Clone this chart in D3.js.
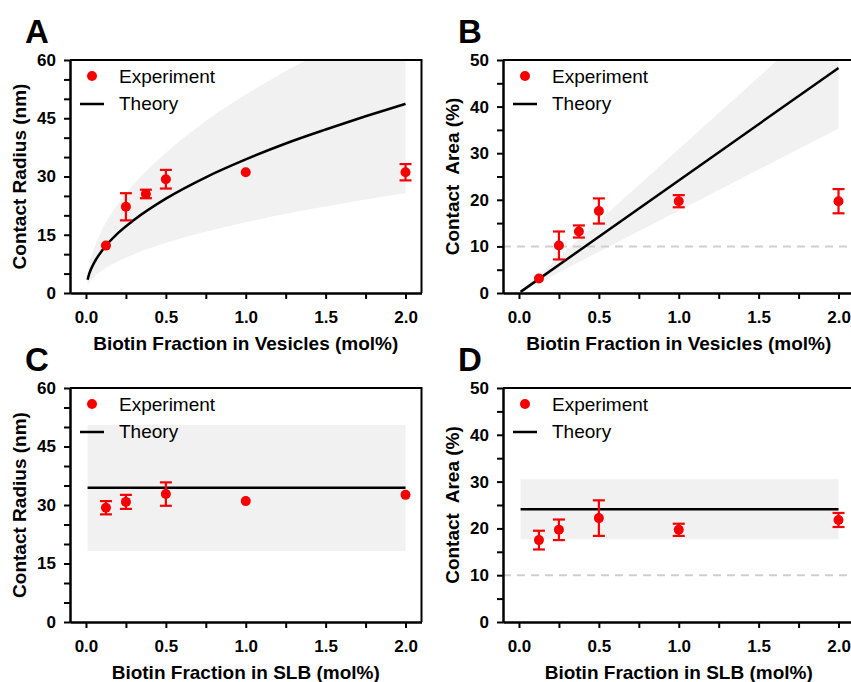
<!DOCTYPE html>
<html lang="en">
<head>
<meta charset="UTF-8">
<title>Contact radius and area vs biotin fraction</title>
<script src="https://d3js.org/d3.v7.min.js"></script>
<style>
    body { margin: 0; background: #fff; }
    svg { display: block; font-family: Arial, "Liberation Sans", sans-serif; }
    .tick text { font-size: 17px; font-weight: bold; fill: #000; }
    .tick line, .domain { stroke: #000; stroke-width: 2; }
    .ytitle, .xtitle { font-size: 19px; font-weight: bold; white-space: pre; }
    .plabel { font-size: 33px; font-weight: bold; }
    .legend { font-size: 19px; }
</style>
</head>
<body>
<svg width="851" height="682"></svg>
<script>
// x positions (mol%)
const xVesicle = [0.125, 0.25, 0.375, 0.5, 1.0, 2.0];
const xSlb = [0.125, 0.25, 0.5, 1.0, 2.0];

// experiment (mean and error)
const radiusVes = [12.2, 22.2, 25.5, 29.3, 31.1, 31.1];
const radiusVesErr = [0, 3.5, 1.1, 2.4, 0, 2.1];
const areaVes = [3.1, 10.2, 13.2, 17.6, 19.7, 19.7];
const areaVesErr = [0, 3.0, 1.3, 2.7, 1.3, 2.6];
const radiusSlb = [29.3, 30.8, 32.8, 31.0, 32.6];
const radiusSlbErr = [1.7, 1.8, 3.0, 0, 0];
const areaSlb = [17.5, 19.7, 22.2, 19.7, 21.8];
const areaSlbErr = [2.0, 2.2, 3.8, 1.3, 1.5];

// theory curves and shaded range
const theoryX = [0.01, 0.02, 0.05, 0.1, 0.2, 0.3, 0.5, 0.75, 1.0, 1.25, 1.5, 1.75, 2.0];
const theoryRadiusVes = [3.4, 4.9, 7.7, 10.9, 15.4, 18.8, 24.3, 29.8, 34.4, 38.5, 42.1, 45.5, 48.7];
const rangeRadiusVesHi = [5.1, 7.2, 11.4, 16.2, 22.9, 28.0, 36.1, 44.3, 51.1, 57.1, 62.6, 67.6, 72.3];
const rangeRadiusVesLo = [1.8, 2.6, 4.1, 5.8, 8.1, 10.0, 12.9, 15.8, 18.2, 20.4, 22.3, 24.1, 25.7];

const lineX = [0.01, 2.0];
const theoryAreaVes = [0.24, 48.3];
const rangeAreaVesHi = [0.31, 61.8];
const rangeAreaVesLo = [0.18, 35.3];
const theoryRadiusSlb = [34.4, 34.4];
const rangeRadiusSlbHi = [50.5, 50.5];
const rangeRadiusSlbLo = [18.2, 18.2];
const theoryAreaSlb = [24.1, 24.1];
const rangeAreaSlbHi = [30.5, 30.5];
const rangeAreaSlbLo = [17.7, 17.7];

const xTicks = [0, 0.5, 1.0, 1.5, 2.0];
const xMinorTicks = [0.25, 0.75, 1.25, 1.75];
const radiusTicks = [0, 15, 30, 45, 60];
const areaTicks = [0, 10, 20, 30, 40, 50];
const refLevel = 10;

const red = "#f50000";
const svg = d3.select("svg");

const panels = [
    {label: "A", left: 70, top: 60, bottom: 293, yMax: 60, yTicks: radiusTicks, yMinor: 5,
     yTitle: "Contact Radius (nm)", xTitle: "Biotin Fraction in Vesicles (mol%)",
     xs: xVesicle, ys: radiusVes, errs: radiusVesErr,
     tx: theoryX, ty: theoryRadiusVes, hi: rangeRadiusVesHi, lo: rangeRadiusVesLo, ref: false},
    {label: "B", left: 503, top: 60, bottom: 293, yMax: 50, yTicks: areaTicks, yMinor: 5,
     yTitle: "Contact  Area (%)", xTitle: "Biotin Fraction in Vesicles (mol%)",
     xs: xVesicle, ys: areaVes, errs: areaVesErr,
     tx: lineX, ty: theoryAreaVes, hi: rangeAreaVesHi, lo: rangeAreaVesLo, ref: true},
    {label: "C", left: 70, top: 388, bottom: 622, yMax: 60, yTicks: radiusTicks, yMinor: 5,
     yTitle: "Contact Radius (nm)", xTitle: "Biotin Fraction in SLB (mol%)",
     xs: xSlb, ys: radiusSlb, errs: radiusSlbErr,
     tx: lineX, ty: theoryRadiusSlb, hi: rangeRadiusSlbHi, lo: rangeRadiusSlbLo, ref: false},
    {label: "D", left: 503, top: 388, bottom: 622, yMax: 50, yTicks: areaTicks, yMinor: 5,
     yTitle: "Contact  Area (%)", xTitle: "Biotin Fraction in SLB (mol%)",
     xs: xSlb, ys: areaSlb, errs: areaSlbErr,
     tx: lineX, ty: theoryAreaSlb, hi: rangeAreaSlbHi, lo: rangeAreaSlbLo, ref: true}
];

panels.forEach((p, i) => {
    const x = d3.scaleLinear().domain([-0.1, 2.1]).range([p.left, p.left + 351.5]);
    const y = d3.scaleLinear().domain([0, p.yMax]).range([p.bottom, p.top]);
    const [x0, x1] = x.range();

    const clipId = "clip" + i;
    svg.append("clipPath").attr("id", clipId)
        .append("rect")
        .attr("x", x0).attr("y", p.top)
        .attr("width", x1 - x0).attr("height", p.bottom - p.top);

    const plot = svg.append("g").attr("clip-path", `url(#${clipId})`);

    // shaded theory range
    const band = p.tx.map((d, j) => ({x: d, lo: p.lo[j], hi: p.hi[j]}));
    plot.append("path")
        .datum(band)
        .attr("fill", "#f1f1f1")
        .attr("d", d3.area()
            .x(d => x(d.x))
            .y0(d => y(d.lo))
            .y1(d => y(d.hi))
            .curve(d3.curveMonotoneX));

    // 10% reference line
    if (p.ref) {
        plot.append("line")
            .attr("x1", x0).attr("x2", x1)
            .attr("y1", y(refLevel)).attr("y2", y(refLevel))
            .attr("stroke", "#cfcfcf")
            .attr("stroke-width", 2)
            .attr("stroke-dasharray", "8,6");
    }

    // theory
    plot.append("path")
        .datum(p.tx.map((d, j) => ({x: d, y: p.ty[j]})))
        .attr("fill", "none")
        .attr("stroke", "#000")
        .attr("stroke-width", 2.5)
        .attr("d", d3.line()
            .x(d => x(d.x))
            .y(d => y(d.y))
            .curve(d3.curveMonotoneX));

    // experiment with error bars
    const pts = p.xs.map((d, j) => ({x: d, y: p.ys[j], e: p.errs[j]}));
    const bars = svg.append("g").attr("stroke", red).attr("stroke-width", 2.2);
    pts.filter(d => d.e > 0).forEach(d => {
        const cx = x(d.x), yHi = y(d.y + d.e), yLo = y(d.y - d.e);
        bars.append("line").attr("x1", cx).attr("x2", cx).attr("y1", yHi).attr("y2", yLo);
        bars.append("line").attr("x1", cx - 6).attr("x2", cx + 6).attr("y1", yHi).attr("y2", yHi);
        bars.append("line").attr("x1", cx - 6).attr("x2", cx + 6).attr("y1", yLo).attr("y2", yLo);
    });
    svg.append("g").selectAll("circle")
        .data(pts)
        .enter().append("circle")
        .attr("cx", d => x(d.x))
        .attr("cy", d => y(d.y))
        .attr("r", 5)
        .attr("fill", red);

    // axes
    svg.append("g")
        .attr("transform", `translate(0,${p.bottom})`)
        .call(d3.axisBottom(x).tickValues(xMinorTicks).tickSize(6).tickSizeOuter(0).tickFormat(""));
    svg.append("g")
        .attr("transform", `translate(0,${p.bottom})`)
        .call(d3.axisBottom(x).tickValues(xTicks).tickSize(6).tickSizeOuter(0).tickPadding(12)
            .tickFormat(d3.format(".1f")));

    const minor = d3.range(0, p.yMax + 0.1, p.yMinor).filter(v => !p.yTicks.includes(v));
    svg.append("g")
        .attr("transform", `translate(${p.left},0)`)
        .call(d3.axisLeft(y).tickValues(minor).tickSize(6).tickSizeOuter(0).tickFormat(""));
    svg.append("g")
        .attr("transform", `translate(${p.left},0)`)
        .call(d3.axisLeft(y).tickValues(p.yTicks).tickSize(6).tickSizeOuter(0).tickPadding(8));

    // frame
    svg.append("path")
        .attr("d", `M${x0},${p.top}H${x1}V${p.bottom}`)
        .attr("fill", "none")
        .attr("stroke", "#000")
        .attr("stroke-width", 2);

    // titles
    svg.append("text")
        .attr("class", "xtitle")
        .attr("x", (x0 + x1) / 2)
        .attr("y", p.bottom + 57)
        .attr("text-anchor", "middle")
        .text(p.xTitle);

    svg.append("text")
        .attr("class", "ytitle")
        .attr("transform", `translate(${p.left - 44},${(p.top + p.bottom) / 2}) rotate(-90)`)
        .attr("text-anchor", "middle")
        .text(p.yTitle);

    svg.append("text")
        .attr("class", "plabel")
        .attr("x", p.left - 45)
        .attr("y", p.top - 17)
        .text(p.label);

    // legend
    const lg = svg.append("g").attr("class", "legend");
    lg.append("circle")
        .attr("cx", p.left + 22).attr("cy", p.top + 16)
        .attr("r", 5).attr("fill", red);
    lg.append("text")
        .attr("x", p.left + 49).attr("y", p.top + 23)
        .text("Experiment");
    lg.append("line")
        .attr("x1", p.left + 10).attr("x2", p.left + 34)
        .attr("y1", p.top + 44).attr("y2", p.top + 44)
        .attr("stroke", "#000").attr("stroke-width", 2.5);
    lg.append("text")
        .attr("x", p.left + 49).attr("y", p.top + 50)
        .text("Theory");
});
</script>
</body>
</html>
